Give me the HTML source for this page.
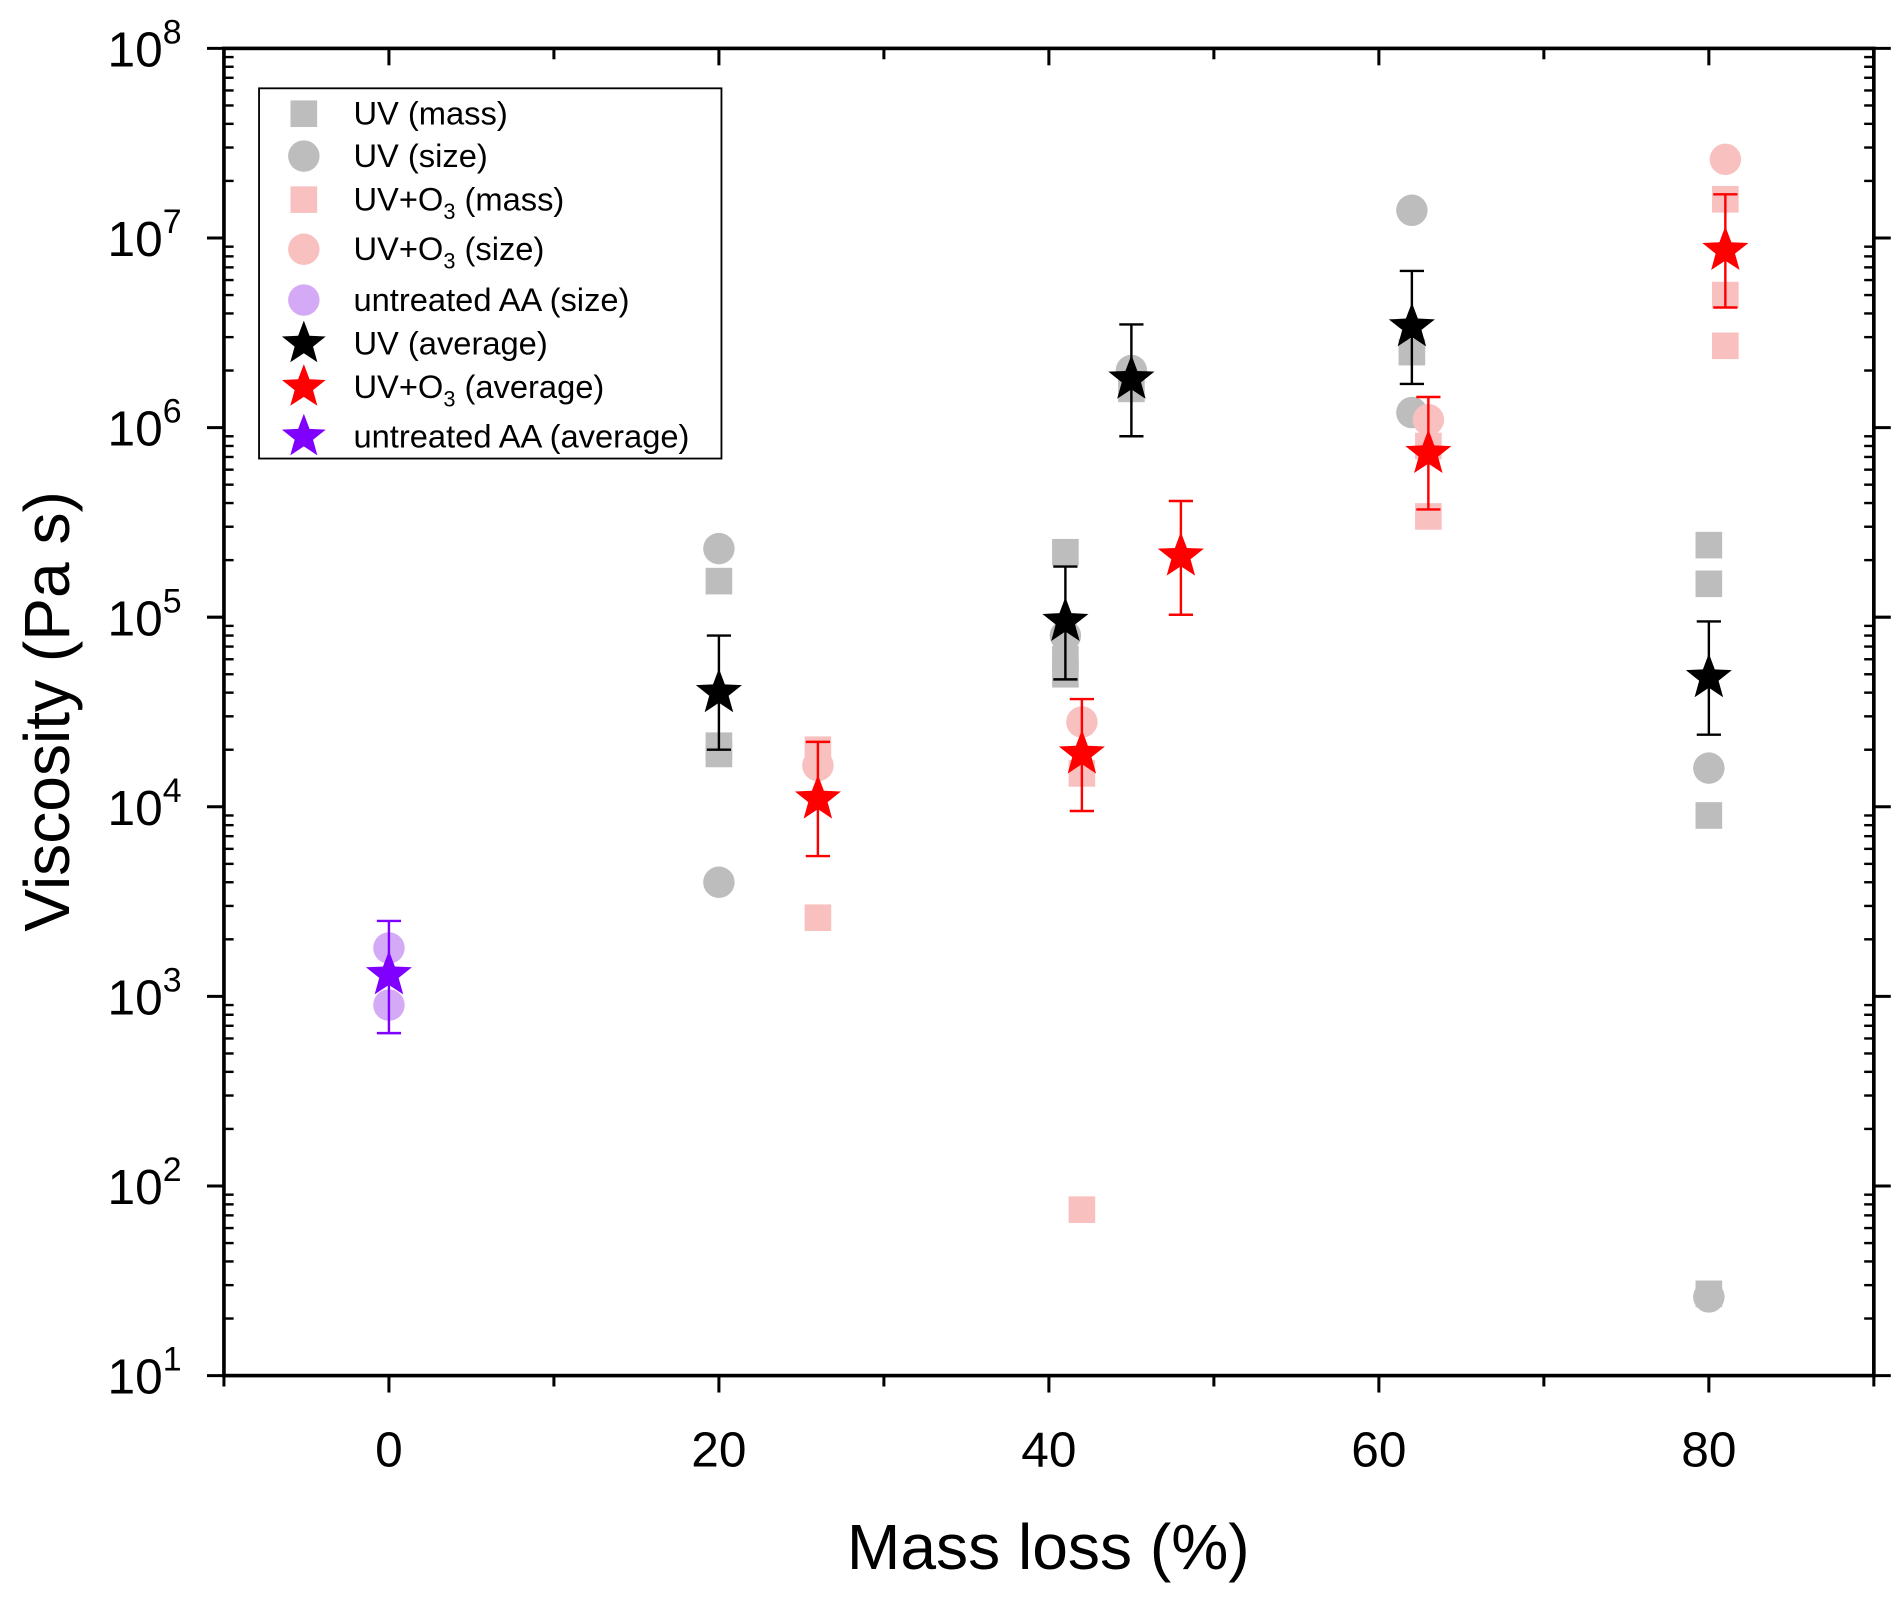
<!DOCTYPE html>
<html><head><meta charset="utf-8"><style>
html,body{margin:0;padding:0;background:#fff;}
svg{display:block;font-family:"Liberation Sans",Arial,sans-serif;}
</style></head><body>
<svg id="chart" width="1892" height="1597" viewBox="0 0 1563 1320" preserveAspectRatio="none" xmlns="http://www.w3.org/2000/svg">
<rect x="0" y="0" width="1563" height="1320" fill="#fff"/>
<g id="axes"></g>
<g id="marks"></g>
<g id="legend"></g>
<text x="866" y="1297" font-size="53" text-anchor="middle">Mass loss (%)</text>
<text transform="translate(57,588) rotate(-90)" font-size="53" text-anchor="middle">Viscosity (Pa s)</text>
</svg>
<script>
const xTicks=[0,20,40,60,80];
const yDecades=[1,2,3,4,5,6,7,8];
const uvMassX=[20,20,20,41,41,41,45,62,80,80,80,80];
const uvMassY=[1.55e5,1.9e4,2.1e4,2.2e5,6e4,5e4,1.6e6,2.5e6,2.4e5,1.5e5,9e3,27];
const uvSizeX=[20,20,41,45,62,62,80,80];
const uvSizeY=[2.3e5,4e3,8e4,2e6,1.4e7,1.2e6,1.6e4,26];
const o3MassX=[26,26,42,42,63,63,81,81,81];
const o3MassY=[2e4,2.6e3,1.5e4,75,3.4e5,8e5,1.6e7,5e6,2.7e6];
const o3SizeX=[26,42,63,81];
const o3SizeY=[1.65e4,2.8e4,1.1e6,2.6e7];
const aaSizeX=[0,0];
const aaSizeY=[1.8e3,9e2];
const uvAvgX=[20,41,45,62,80];
const uvAvgY=[4e4,9.5e4,1.8e6,3.4e6,4.8e4];
const uvAvgLo=[2e4,4.7e4,9e5,1.7e6,2.4e4];
const uvAvgHi=[8e4,1.85e5,3.5e6,6.7e6,9.5e4];
const o3AvgX=[26,42,48,63,81];
const o3AvgY=[1.1e4,1.9e4,2.1e5,7.3e5,8.6e6];
const o3AvgLo=[5.5e3,9.5e3,1.03e5,3.7e5,4.3e6];
const o3AvgHi=[2.2e4,3.7e4,4.1e5,1.45e6,1.7e7];
const aaAvgX=[0];
const aaAvgY=[1.3e3];
const aaAvgLo=[6.4e2];
const aaAvgHi=[2.5e3];

const L=185,R=1548,T=40,B=1137;
const xs=v=>L+(v+10)/100*(R-L);
const ys=v=>B-(Math.log10(v)-1)/7*(B-T);
const NS="http://www.w3.org/2000/svg";
function mk(tag,attrs,parent){const e=document.createElementNS(NS,tag);for(const k in attrs)e.setAttribute(k,attrs[k]);parent.appendChild(e);return e;}
const axes=document.getElementById('axes'),marks=document.getElementById('marks'),leg=document.getElementById('legend');

const frame=mk('rect',{x:L,y:T,width:R-L,height:B-T,fill:'none',stroke:'#000','stroke-width':3},axes);


for(let v=-10;v<=90;v+=10){
  const major=xTicks.includes(v);const x=xs(v);
  mk('line',{x1:x,y1:B,x2:x,y2:B+(major?14:9),stroke:'#000','stroke-width':2.5},axes);
  mk('line',{x1:x,y1:T,x2:x,y2:T+(major?14:9),stroke:'#000','stroke-width':2.5},axes);
}
xTicks.forEach(v=>{
  const t=mk('text',{x:xs(v),y:1212,'font-size':41,'text-anchor':'middle'},axes);t.textContent=v;
  
  
});
yDecades.forEach(d=>{
  const y=ys(Math.pow(10,d));
  mk('line',{x1:L-14,y1:y,x2:L,y2:y,stroke:'#000','stroke-width':2.5},axes);
  mk('line',{x1:R,y1:y,x2:R+14,y2:y,stroke:'#000','stroke-width':2.5},axes);
  const t=mk('text',{x:150,y:y+15,'font-size':41,'text-anchor':'end'},axes);
  
  
  const a=document.createElementNS(NS,'tspan');a.textContent='10';t.appendChild(a);
  const s=document.createElementNS(NS,'tspan');s.setAttribute('dy','-19');s.setAttribute('font-size','28');s.textContent=d;t.appendChild(s);
  if(d<8)for(let m=2;m<=9;m++){const yy=ys(m*Math.pow(10,d));
    mk('line',{x1:L,y1:yy,x2:L+8,y2:yy,stroke:'#000','stroke-width':2},axes);
    mk('line',{x1:R-8,y1:yy,x2:R,y2:yy,stroke:'#000','stroke-width':2},axes);}
});
function star(cx,cy,r,fill,parent){let p='';for(let i=0;i<10;i++){const rr=i%2?r*0.42:r;const a=-Math.PI/2+i*Math.PI/5;p+=(i?'L':'M')+(cx+rr*Math.cos(a)).toFixed(1)+','+(cy+rr*Math.sin(a)).toFixed(1);}return mk('path',{d:p+'Z',fill:fill},parent);}
function squares(X,Y,c,name){X.forEach((x,i)=>{const e=mk('rect',{x:xs(x)-11,y:ys(Y[i])-11,width:22,height:22,fill:c},marks);
  
  });}
function circles(X,Y,c,name){X.forEach((x,i)=>{const e=mk('circle',{cx:xs(x),cy:ys(Y[i]),r:13,fill:c},marks);
  
  });}
function avgs(X,Y,Lo,Hi,c,name){X.forEach((x,i)=>{const cx=xs(x);
  const g=mk('g',{},marks);
  
  
  mk('line',{x1:cx,y1:ys(Lo[i]),x2:cx,y2:ys(Hi[i]),stroke:c,'stroke-width':2},g);
  mk('line',{x1:cx-10,y1:ys(Lo[i]),x2:cx+10,y2:ys(Lo[i]),stroke:c,'stroke-width':2},g);
  mk('line',{x1:cx-10,y1:ys(Hi[i]),x2:cx+10,y2:ys(Hi[i]),stroke:c,'stroke-width':2},g);
  star(cx,ys(Y[i]),20,c,g);});}
squares(uvMassX,uvMassY,'#bdbdbd','uv-mass-point');
circles(uvSizeX,uvSizeY,'#bdbdbd','uv-size-point');
squares(o3MassX,o3MassY,'#f9c0c0','uv-o3-mass-point');
circles(o3SizeX,o3SizeY,'#f9c0c0','uv-o3-size-point');
circles(aaSizeX,aaSizeY,'#d4aaf6','untreated-size-point');
avgs(uvAvgX,uvAvgY,uvAvgLo,uvAvgHi,'#000','uv-average-point');
avgs(o3AvgX,o3AvgY,o3AvgLo,o3AvgHi,'#ff0000','uv-o3-average-point');
avgs(aaAvgX,aaAvgY,aaAvgLo,aaAvgHi,'#7f00ff','untreated-average-point');
const lb=mk('rect',{x:214,y:73,width:382,height:306,fill:'#fff',stroke:'#000','stroke-width':1.5},leg);


const entries=[['sq','#bdbdbd','UV (mass)',94],['ci','#bdbdbd','UV (size)',129],['sq','#f9c0c0','UV+O|3|(mass)',165],['ci','#f9c0c0','UV+O|3|(size)',206],['ci','#d4aaf6','untreated AA (size)',248],['st','#000','UV (average)',284],['st','#ff0000','UV+O|3|(average)',320],['st','#7f00ff','untreated AA (average)',361]];
entries.forEach(([t,c,lab,y])=>{
  const g=mk('g',{},leg);
  
  
  if(t==='sq')mk('rect',{x:240,y:y-11,width:22,height:22,fill:c},g);
  else if(t==='ci')mk('circle',{cx:251,cy:y,r:13,fill:c},g);
  else star(251,y,19,c,g);
  const tx=mk('text',{x:292,y:y+9,'font-size':27},g);
  const parts=lab.split('|');
  parts.forEach((p,i)=>{const s=document.createElementNS(NS,'tspan');s.textContent=(i===2?' ':'')+p;
    if(i===1){s.setAttribute('dy','7');s.setAttribute('font-size','18');}
    if(i===2){s.setAttribute('dy','-7');}
    tx.appendChild(s);});
});
</script>
</body></html>
